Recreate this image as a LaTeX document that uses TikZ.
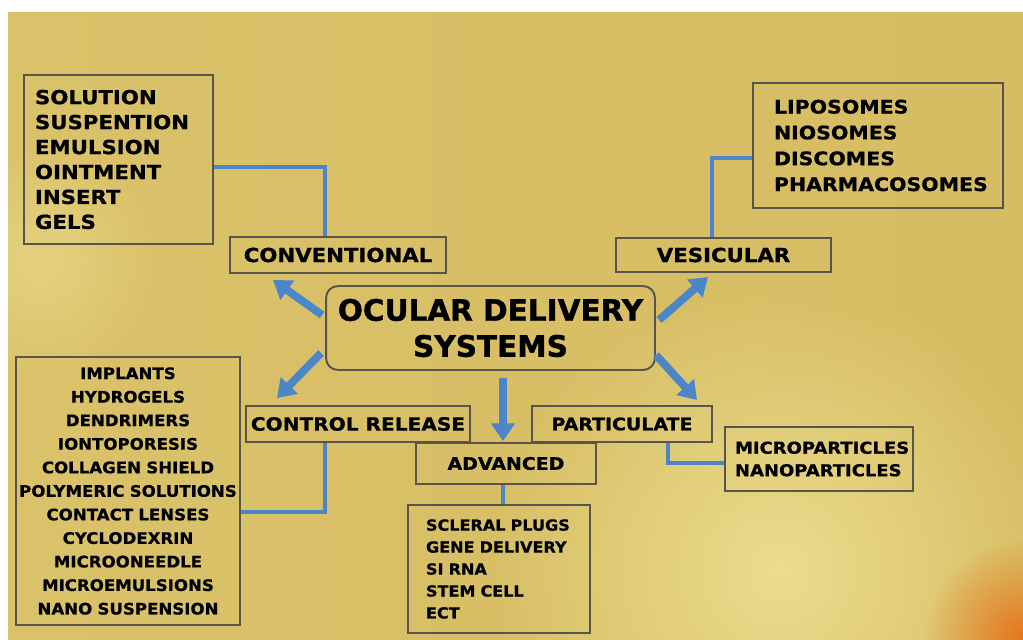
\documentclass[tikz,border=0pt]{standalone}
\usepackage{fontspec}
\usetikzlibrary{arrows.meta,fadings}
\newfontfamily\catfont{DejaVu Sans Bold}[FakeStretch=1.1,FakeBold=0.8]
\newfontfamily\titlefont{DejaVu Sans Bold}[FakeBold=1.2]
\newfontfamily\listfont{DejaVu Sans Bold}[FakeStretch=1.05,FakeBold=0.7]
\definecolor{bggold}{RGB}{214,188,98}
\definecolor{bgdark}{RGB}{200,167,72}
\definecolor{bgleft}{RGB}{218,194,106}
\definecolor{bglight}{RGB}{236,220,142}
\definecolor{bgorange}{RGB}{228,118,28}
\definecolor{boxline}{RGB}{88,86,76}
\definecolor{linkblue}{RGB}{74,134,200}
\tikzfading[name=softspot, inner color=transparent!0, outer color=transparent!100]

\begin{document}
\begin{tikzpicture}[x=0.02cm,y=-0.02cm]
\tikzstyle{catbox}=[draw=boxline, line width=1.1pt, inner sep=0pt, font=\catfont\fontsize{11}{13}\selectfont]
\tikzstyle{listbox}=[draw=boxline, line width=1.1pt, inner ysep=0pt, align=left, font=\catfont\fontsize{11}{14.2}\selectfont]
\tikzstyle{link}=[draw=linkblue, line width=2.4pt]
\tikzstyle{fatarrow}=[draw=linkblue, line width=4.5pt, -{Triangle[width=13pt,length=10pt]}]
\useasboundingbox (0,0) rectangle (1023,639);
% background
\fill [white] (0,0) rectangle (1023,639);
\begin{scope}
\clip (8,12) rectangle (1023,639);
\shade [left color=bgleft, middle color=bgdark, right color=bggold] (8,12) rectangle (1023,639);
\fill [bglight, path fading=softspot] (780,570) circle (290);
\fill [bglight, path fading=softspot, opacity=0.6] (40,260) circle (120);
\fill [bgorange, path fading=softspot] (1023,639) circle (100);
\end{scope}
% centre
\node [draw=boxline, line width=1.1pt, rounded corners=0.24cm, minimum width=6.58cm, minimum height=1.68cm,
  align=center, font=\titlefont\fontsize{16.8}{20.5}\selectfont] (ods) at (490.5,328) {OCULAR DELIVERY\\SYSTEMS};
% categories
\node [catbox, minimum width=4.32cm, minimum height=0.72cm] (conv) at (338,255) {CONVENTIONAL};
\node [catbox, minimum width=4.30cm, minimum height=0.68cm] (vesi) at (723.5,255) {VESICULAR};
\node [catbox, minimum width=4.48cm, minimum height=0.72cm, font=\catfont\fontsize{10.4}{13}\selectfont] (ctrl) at (358,424) {CONTROL RELEASE};
\node [catbox, minimum width=3.60cm, minimum height=0.72cm, font=\catfont\fontsize{9.8}{13}\selectfont] (part) at (622,424) {PARTICULATE};
\node [catbox, minimum width=3.60cm, minimum height=0.82cm, font=\catfont\fontsize{9.8}{13}\selectfont] (adv) at (506,463.5) {ADVANCED};
% lists
\node [listbox, inner xsep=0.22cm, text width=3.34cm, minimum height=3.38cm] (convlist) at (118.5,159.5)
  {SOLUTION\\SUSPENTION\\EMULSION\\OINTMENT\\INSERT\\GELS};
\node [listbox, inner xsep=0.42cm, text width=4.16cm, minimum height=2.50cm,
  font=\catfont\fontsize{10.6}{14.7}\selectfont] (vesilist) at (878,145.5)
  {LIPOSOMES\\NIOSOMES\\DISCOMES\\PHARMACOSOMES};
\node [listbox, align=center, inner xsep=0.05cm, text width=4.38cm, minimum height=5.36cm,
  font=\listfont\fontsize{9}{13.4}\selectfont] (ctrllist) at (128,491)
  {IMPLANTS\\HYDROGELS\\DENDRIMERS\\IONTOPORESIS\\COLLAGEN SHIELD\\POLYMERIC SOLUTIONS\\CONTACT LENSES\\CYCLODEXRIN\\MICROONEEDLE\\MICROEMULSIONS\\NANO SUSPENSION};
\node [listbox, inner xsep=0.20cm, text width=3.36cm, minimum height=1.28cm,
  font=\catfont\fontsize{9.3}{12.8}\selectfont] (mplist) at (819,459)
  {MICROPARTICLES\\NANOPARTICLES};
\node [listbox, inner xsep=0.36cm, text width=2.92cm, minimum height=2.56cm,
  font=\listfont\fontsize{8.7}{12.5}\selectfont] (advlist) at (499,569)
  {SCLERAL PLUGS\\GENE DELIVERY\\SI RNA\\STEM CELL\\ECT};
% arrow tips
\coordinate (convtip) at (273,280);
\coordinate (vesitip) at (708,277);
\coordinate (ctrltip) at (277,398);
\coordinate (parttip) at (697,400);
% arrows
\draw [fatarrow] ([xshift=-0.06cm,yshift=0.26cm]ods.west) -- (convtip);
\draw [fatarrow] ([xshift=0.06cm,yshift=0.16cm]ods.east) -- (vesitip);
\draw [fatarrow] ([xshift=-0.08cm,yshift=-0.50cm]ods.west) -- (ctrltip);
\draw [fatarrow] ([yshift=-0.54cm]ods.east) -- (parttip);
\draw [fatarrow] ([xshift=0.25cm,yshift=-0.14cm]ods.south) -- ([xshift=-0.06cm,yshift=0.02cm]adv.north);
% links
\draw [link] ([yshift=-0.15cm]convlist.east) -| ([xshift=-0.26cm]conv.north);
\draw [link] ([yshift=-0.25cm]vesilist.west) -| ([xshift=-0.23cm]vesi.north);
\draw [link] ([xshift=-0.66cm]ctrl.south) |- ([yshift=-0.42cm]ctrllist.east);
\draw [link] ([xshift=0.92cm]part.south) |- ([yshift=-0.08cm]mplist.west);
\draw [link] ([xshift=-0.06cm]adv.south) -- ([xshift=-0.06cm]adv.south |- advlist.north);
\end{tikzpicture}
\end{document}
